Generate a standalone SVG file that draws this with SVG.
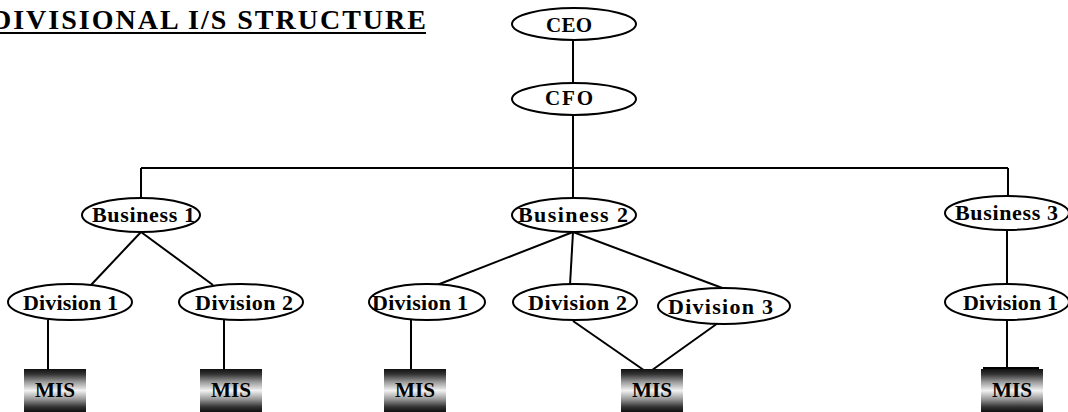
<svg xmlns="http://www.w3.org/2000/svg" width="1068" height="412" viewBox="0 0 1068 412">
<style>
  .node ellipse { fill: #fff; stroke: #000; stroke-width: 2; }
  .lbl { font-family: "Liberation Serif", "Times New Roman", serif; font-weight: bold; fill: #000; }
  .top { font-size: 21px; }
  .biz { font-size: 22px; }
  .div { font-size: 22px; }
  .mis { font-size: 22px; }
  .conn line { stroke: #000; stroke-width: 2; }
  .box { fill: url(#misGrad); }
</style>
<defs>
  <linearGradient id="misGrad" x1="0" y1="0" x2="0" y2="1">
    <stop offset="0" stop-color="#111"/>
    <stop offset="0.12" stop-color="#333"/>
    <stop offset="0.3" stop-color="#999"/>
    <stop offset="0.5" stop-color="#f2f2f2"/>
    <stop offset="0.7" stop-color="#999"/>
    <stop offset="0.88" stop-color="#333"/>
    <stop offset="1" stop-color="#111"/>
  </linearGradient>
</defs>
<rect width="1068" height="412" fill="#fff"/>

<g id="title">
  <text class="lbl" x="-9" y="29" font-size="28" textLength="435" lengthAdjust="spacing">DIVISIONAL I/S STRUCTURE</text>
  <line x1="0" y1="33" x2="426" y2="33" stroke="#000" stroke-width="2"/>
</g>

<g id="connectors" class="conn">
  <line x1="573" y1="40" x2="573" y2="83"/>
  <line x1="573" y1="115" x2="573" y2="168"/>
  <line x1="141" y1="168" x2="1008" y2="168"/>
  <line x1="141" y1="168" x2="141" y2="198"/>
  <line x1="573" y1="168" x2="573" y2="198"/>
  <line x1="1008" y1="168" x2="1008" y2="196"/>
  <line x1="141" y1="232" x2="91" y2="285"/>
  <line x1="141" y1="232" x2="213" y2="285"/>
  <line x1="573" y1="232" x2="437" y2="285"/>
  <line x1="573" y1="232" x2="570" y2="285"/>
  <line x1="573" y1="232" x2="725" y2="289"/>
  <line x1="1007" y1="230" x2="1007" y2="285"/>
  <line x1="48" y1="320" x2="48" y2="370"/>
  <line x1="224" y1="320" x2="224" y2="370"/>
  <line x1="411" y1="320" x2="411" y2="370"/>
  <line x1="573" y1="321" x2="648" y2="373"/>
  <line x1="718" y1="323" x2="648" y2="373"/>
  <line x1="1007" y1="320" x2="1007" y2="368"/>
  <line x1="983" y1="368" x2="1039" y2="368"/>
</g>

<g id="ceo" class="node">
  <ellipse cx="574" cy="24" rx="62" ry="16"/>
  <text class="lbl top" x="569" y="32" text-anchor="middle" textLength="46" lengthAdjust="spacing">CEO</text>
</g>
<g id="cfo" class="node">
  <ellipse cx="574" cy="99" rx="62" ry="16"/>
  <text class="lbl top" x="569" y="105" text-anchor="middle" textLength="48" lengthAdjust="spacing">CFO</text>
</g>

<g id="business1" class="node">
  <ellipse cx="141" cy="215" rx="59" ry="17"/>
  <text class="lbl biz" x="92" y="222" textLength="103" lengthAdjust="spacing">Business 1</text>
</g>
<g id="business2" class="node">
  <ellipse cx="574" cy="215" rx="62" ry="17"/>
  <text class="lbl biz" x="518" y="222" textLength="110" lengthAdjust="spacing">Business  2</text>
</g>
<g id="business3" class="node">
  <ellipse cx="1007" cy="213" rx="62" ry="17"/>
  <text class="lbl biz" x="955" y="220" textLength="103" lengthAdjust="spacing">Business 3</text>
</g>

<g id="b1-division1" class="node">
  <ellipse cx="70" cy="302" rx="62" ry="18"/>
  <text class="lbl div" x="23" y="310" textLength="95" lengthAdjust="spacing">Division 1</text>
</g>
<g id="b1-division2" class="node">
  <ellipse cx="241" cy="302" rx="62" ry="18"/>
  <text class="lbl div" x="195" y="310" textLength="98" lengthAdjust="spacing">Division 2</text>
</g>
<g id="b2-division1" class="node">
  <ellipse cx="427" cy="302" rx="58" ry="18"/>
  <text class="lbl div" x="372" y="310" textLength="96" lengthAdjust="spacing">Division 1</text>
</g>
<g id="b2-division2" class="node">
  <ellipse cx="575" cy="302" rx="62" ry="18"/>
  <text class="lbl div" x="528" y="310" textLength="99" lengthAdjust="spacing">Division 2</text>
</g>
<g id="b2-division3" class="node">
  <ellipse cx="724" cy="306" rx="66" ry="18"/>
  <text class="lbl div" x="668" y="314" textLength="105" lengthAdjust="spacing">Division 3</text>
</g>
<g id="b3-division1" class="node">
  <ellipse cx="1007" cy="302" rx="62" ry="18"/>
  <text class="lbl div" x="963" y="310" textLength="95" lengthAdjust="spacing">Division 1</text>
</g>

<g id="mis1" class="node">
  <rect class="box" x="24" y="369" width="62" height="43"/>
  <text class="lbl mis" x="55" y="397" text-anchor="middle" textLength="40" lengthAdjust="spacingAndGlyphs">MIS</text>
</g>
<g id="mis2" class="node">
  <rect class="box" x="200" y="369" width="62" height="43"/>
  <text class="lbl mis" x="231" y="397" text-anchor="middle" textLength="40" lengthAdjust="spacingAndGlyphs">MIS</text>
</g>
<g id="mis3" class="node">
  <rect class="box" x="384" y="369" width="62" height="43"/>
  <text class="lbl mis" x="415" y="397" text-anchor="middle" textLength="40" lengthAdjust="spacingAndGlyphs">MIS</text>
</g>
<g id="mis4" class="node">
  <rect class="box" x="621" y="369" width="62" height="43"/>
  <text class="lbl mis" x="652" y="397" text-anchor="middle" textLength="40" lengthAdjust="spacingAndGlyphs">MIS</text>
</g>
<g id="mis5" class="node">
  <rect class="box" x="981" y="369" width="62" height="43"/>
  <text class="lbl mis" x="1012" y="397" text-anchor="middle" textLength="40" lengthAdjust="spacingAndGlyphs">MIS</text>
</g>
</svg>
